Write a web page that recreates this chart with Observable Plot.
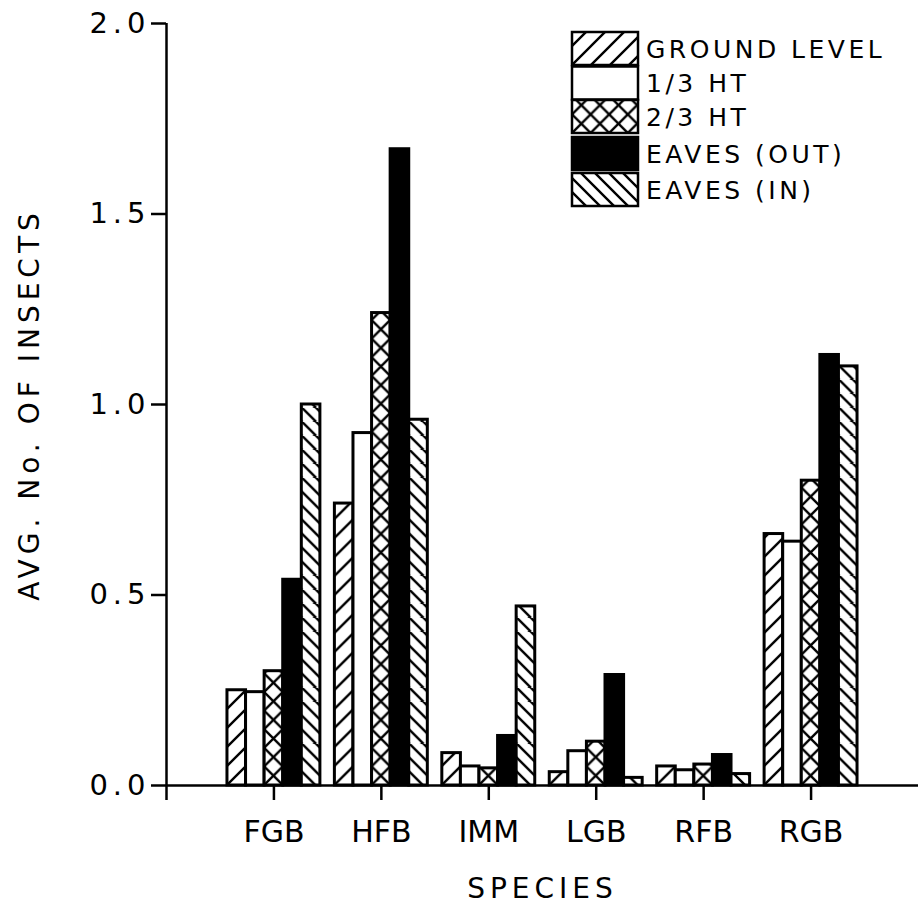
<!DOCTYPE html>
<html>
<head>
<meta charset="utf-8">
<script src="https://cdn.jsdelivr.net/npm/d3@7"></script>
<script src="https://cdn.jsdelivr.net/npm/@observablehq/plot@0.6"></script>
<style>
  body { margin: 0; background: #fff; }
  #chart svg { display: block; }
</style>
</head>
<body>
<div id="chart"></div>
<script>
// Average number of insects per trap, by species and trap height
const species = ["FGB", "HFB", "IMM", "LGB", "RFB", "RGB"];
const levels = ["GROUND LEVEL", "1/3 HT", "2/3 HT", "EAVES (OUT)", "EAVES (IN)"];
const groundLevel = [0.25, 0.74, 0.085, 0.035, 0.05, 0.66];
const thirdHt     = [0.245, 0.925, 0.05, 0.09, 0.04, 0.64];
const twoThirdsHt = [0.30, 1.24, 0.045, 0.115, 0.055, 0.80];
const eavesOut    = [0.54, 1.67, 0.13, 0.29, 0.08, 1.13];
const eavesIn     = [1.00, 0.96, 0.47, 0.02, 0.03, 1.10];
const yTicks = [0, 0.5, 1.0, 1.5, 2.0];

const series = [groundLevel, thirdHt, twoThirdsHt, eavesOut, eavesIn];
const patternKind = ["fwd", null, "cross", null, "back"];

// one row per bar; species sit at positions 1..6 on a 0..7 axis
const rows = [];
series.forEach((vals, j) => vals.forEach((v, i) => rows.push({species: species[i], level: levels[j], j, pos: i + 1, value: v})));

const groupWidth = 0.865;            // share of one category step used by the five bars
const barWidth = groupWidth / levels.length;
const left = r => r.pos - groupWidth / 2 + r.j * barWidth;

const textFont = "DejaVu Sans";

const svg = Plot.plot({
  width: 918,
  height: 913,
  marginLeft: 166,
  marginRight: 0,
  marginTop: 23,
  marginBottom: 128,
  style: {fontFamily: textFont, fontSize: "28px", background: "white", color: "black", overflow: "visible"},
  x: {domain: [0, 7], ticks: d3.range(0, 7), tickSize: 15, tickPadding: 20,
      tickFormat: i => (i === 0 ? "" : species[i - 1]), label: null},
  y: {domain: [0, 2], ticks: yTicks, tickSize: 15, tickPadding: 1,
      tickFormat: d3.format(".1f"), label: null},
  marks: [
    ...levels.map((lv, j) => Plot.rect(rows.filter(r => r.j === j), {
      x1: left,
      x2: r => left(r) + barWidth,
      y1: 0,
      y2: "value",
      fill: j === 3 ? "black" : "white",
      stroke: "black",
      strokeWidth: 3,
      ariaDescription: "bars-" + j
    })),
    Plot.ruleY([0], {strokeWidth: 2.5}),
    Plot.ruleX([0], {strokeWidth: 2.5}),
    Plot.text(["AVG. No. OF INSECTS"], {frameAnchor: "left", dx: -136, rotate: -90,
      textAnchor: "middle", lineAnchor: "middle",
      fontSize: 28, fill: "black", ariaDescription: "y-title"}),
    Plot.text(["SPECIES"], {frameAnchor: "bottom", dy: 112,
      fontSize: 28, fill: "black", ariaDescription: "x-title"})
  ]
});

document.getElementById("chart").appendChild(svg);

const root = d3.select(svg);
const tagged = (tag, name) => root.selectAll(`[aria-description="${name}"] ${tag}, ${tag}[aria-description="${name}"]`);

// heavier pen for tick marks and spaced lettering
root.selectAll('[aria-label^="x-axis"], [aria-label^="y-axis"]').attr("stroke-width", 2.5);
root.selectAll('[aria-label^="x-axis"] text').style("font-size", "30px").style("letter-spacing", "0px");
root.selectAll('[aria-label^="y-axis"] text').style("font-size", "29px").style("letter-spacing", "5px");
tagged("text", "y-title").style("letter-spacing", "5px");
tagged("text", "x-title").style("letter-spacing", "5px");

// hatch patterns, anchored at each bar's lower-left corner
const defs = root.insert("defs", ":first-child");
let patternId = 0;
function addPattern(kind, x0, y0) {
  const id = "hatch-" + (patternId++);
  const s = kind === "back" ? 14 : kind === "cross" ? 18.6 : 19;
  const p = defs.append("pattern")
    .attr("id", id)
    .attr("patternUnits", "userSpaceOnUse")
    .attr("x", x0).attr("y", y0)
    .attr("width", s).attr("height", s);
  p.append("rect").attr("width", s).attr("height", s).attr("fill", "white");
  let d;
  if (kind === "fwd") d = `M-2,2 l4,-4 M0,${s} L${s},0 M${s - 2},${s + 2} l4,-4`;
  else if (kind === "back") d = `M-2,${s - 2} l4,4 M0,0 L${s},${s} M${s - 2},-2 l4,4`;
  else d = `M0,0 L${s},${s} M${s},0 L0,${s}`;
  p.append("path").attr("d", d).attr("stroke", "black").attr("stroke-width", 2.4).attr("fill", "none");
  return `url(#${id})`;
}

levels.forEach((lv, j) => {
  const kind = patternKind[j];
  if (!kind) return;
  tagged("rect", "bars-" + j).each(function () {
    const r = d3.select(this);
    const x0 = +r.attr("x");
    const y0 = +r.attr("y") + +r.attr("height");
    r.attr("fill", addPattern(kind, x0, y0));
  });
});

// legend in the upper right of the plotting area
const legend = root.append("g").attr("aria-label", "legend").attr("text-anchor", "start");
const boxX = 572, boxW = 66, boxH = 33, rowTop = [32, 66.5, 100, 137, 173];
levels.forEach((lv, j) => {
  const y = rowTop[j];
  const kind = patternKind[j];
  const fill = j === 3 ? "black" : kind ? addPattern(kind, boxX, y + boxH) : "white";
  legend.append("rect")
    .attr("x", boxX).attr("y", y).attr("width", boxW).attr("height", boxH)
    .attr("fill", fill).attr("stroke", "black").attr("stroke-width", 2.5);
  legend.append("text")
    .attr("x", boxX + boxW + 8).attr("y", y + boxH / 2 + 9)
    .attr("text-anchor", "start")
    .attr("font-family", textFont).attr("font-size", 25)
    .style("letter-spacing", "3.5px")
    .attr("fill", "black")
    .text(lv);
});
</script>
</body>
</html>
